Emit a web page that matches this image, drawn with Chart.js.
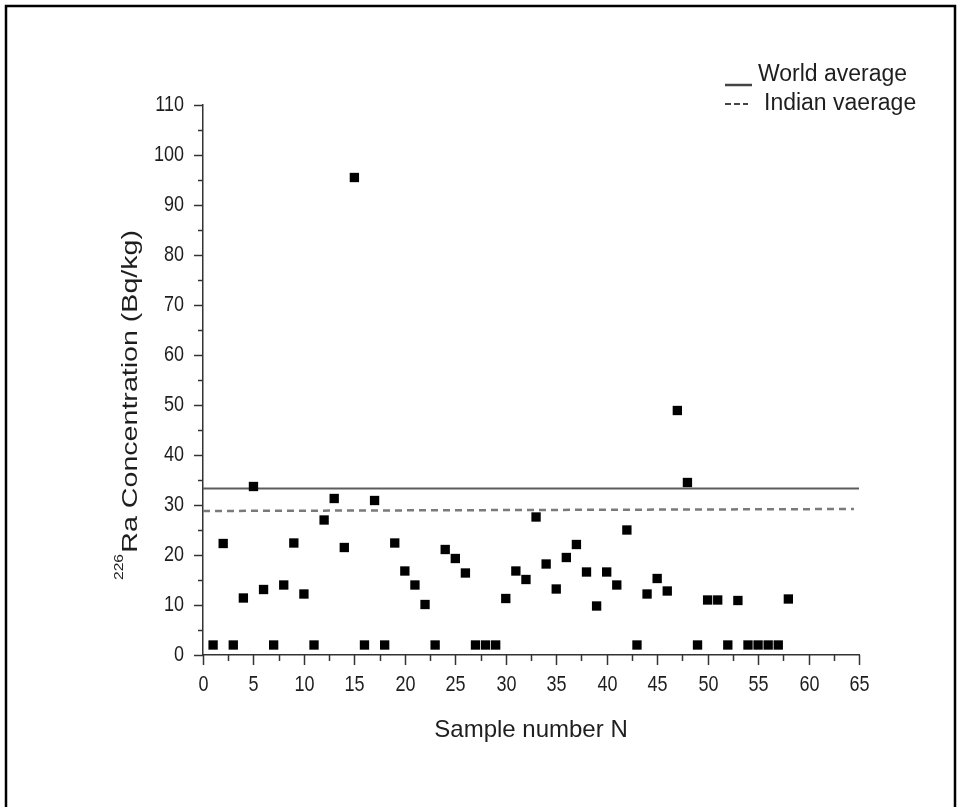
<!DOCTYPE html>
<html lang="en">
<head>
  <meta charset="UTF-8">
  <title>226Ra Concentration</title>
  <style>
    html, body { margin: 0; padding: 0; background: #fff; }
    #wrap { width: 957px; height: 807px; }
  </style>
</head>
<body>
<div id="wrap">
  <canvas id="chart" width="957" height="807"></canvas>
</div>

<script src="https://cdn.jsdelivr.net/npm/chart.js"></script>

<script>
  // sample numbers and measured 226Ra values (Bq/kg)
  const samples = [1, 2, 3, 4, 5, 6, 7, 8, 9, 10, 11, 12, 13, 14, 15, 16, 17, 18, 19, 20,
    21, 22, 23, 24, 25, 26, 27, 28, 29, 30, 31, 32, 33, 34, 35, 36, 37, 38, 39, 40,
    41, 42, 43, 44, 45, 46, 47, 48, 49, 50, 51, 52, 53, 54, 55, 56, 57, 58];
  const raValues = [2, 22.3, 2, 11.4, 33.7, 13.1, 2, 14.0, 22.4, 12.2, 2, 27.0, 31.3, 21.5, 95.5,
    2, 30.9, 2, 22.4, 16.8, 14.0, 10.1, 2, 21.1, 19.3, 16.4, 2, 2, 2, 11.3,
    16.8, 15.1, 27.6, 18.2, 13.2, 19.5, 22.1, 16.6, 9.8, 16.6, 14.0, 25.0, 2, 12.2, 15.3,
    12.8, 48.9, 34.5, 2, 11.0, 11.0, 2, 10.9, 2, 2, 2, 2, 11.2];

  // reference lines: x range and y values at both ends
  const worldX = [0, 65];
  const worldY = [33.3, 33.3];
  const indianX = [0, 64.5];
  const indianY = [28.8, 29.2];

  const legendLabels = ['World average', 'Indian vaerage'];
  const xTitle = 'Sample number N';
  const yTitleSup = '226';
  const yTitle = 'Ra Concentration (Bq/kg)';

  const FONT = '"Liberation Sans", Arial, sans-serif';
  const INK = '#1e1e1e';

  const points = samples.map((n, i) => ({ x: n, y: raValues[i] }));
  const worldLine = worldX.map((x, i) => ({ x, y: worldY[i] }));
  const indianLine = indianX.map((x, i) => ({ x, y: indianY[i] }));

  // the source picture has slightly tall lettering, so labels are drawn here
  function tallText(ctx, text, x, y, sy) {
    ctx.save();
    ctx.translate(x, y);
    ctx.scale(1, sy);
    ctx.fillText(text, 0, 0);
    ctx.restore();
  }

  const decor = {
    id: 'decor',
    afterDraw(chart) {
      const ctx = chart.ctx;
      const { x, y } = chart.scales;
      ctx.save();
      ctx.strokeStyle = '#333';
      ctx.lineWidth = 1.5;
      ctx.fillStyle = INK;
      ctx.font = '18px ' + FONT;
      ctx.textBaseline = 'middle';

      // tick marks and labels (major ticks carry a label)
      ctx.textAlign = 'center';
      x.ticks.forEach((t) => {
        const px = Math.round(x.getPixelForValue(t.value)) + 0.5;
        const len = t.label === '' ? 6 : 10;
        ctx.beginPath();
        ctx.moveTo(px, x.top);
        ctx.lineTo(px, x.top + len);
        ctx.stroke();
        if (t.label !== '') tallText(ctx, t.label, px, x.top + 30, 1.2);
      });
      ctx.textAlign = 'right';
      y.ticks.forEach((t) => {
        const py = Math.round(y.getPixelForValue(t.value)) + 0.5;
        const len = t.label === '' ? 5 : 9;
        ctx.beginPath();
        ctx.moveTo(y.right, py);
        ctx.lineTo(y.right - len, py);
        ctx.stroke();
        if (t.label !== '') tallText(ctx, t.label, y.right - 19, py, 1.2);
      });

      // x title
      ctx.font = '24px ' + FONT;
      ctx.textAlign = 'center';
      ctx.textBaseline = 'alphabetic';
      ctx.fillText(xTitle, (chart.chartArea.left + chart.chartArea.right) / 2, 737);

      // y title with superscript
      ctx.save();
      ctx.translate(137, 580);
      ctx.rotate(-Math.PI / 2);
      ctx.scale(1.3, 1);
      ctx.textAlign = 'left';
      ctx.font = '12px ' + FONT;
      ctx.fillText(yTitleSup, 0, -14);
      const w = ctx.measureText(yTitleSup).width;
      ctx.font = '22px ' + FONT;
      ctx.fillText(yTitle, w + 1, 0);
      ctx.restore();

      // legend
      ctx.font = '23px ' + FONT;
      ctx.textAlign = 'left';
      tallText(ctx, legendLabels[0], 758, 81, 1.08);
      tallText(ctx, legendLabels[1], 764, 110, 1.08);
      ctx.strokeStyle = '#444';
      ctx.lineWidth = 2.5;
      ctx.beginPath();
      ctx.moveTo(725, 85);
      ctx.lineTo(752, 85);
      ctx.stroke();
      ctx.setLineDash([6, 3]);
      ctx.lineWidth = 2;
      ctx.beginPath();
      ctx.moveTo(725, 104);
      ctx.lineTo(748, 104);
      ctx.stroke();
      ctx.setLineDash([]);

      // frame
      ctx.strokeStyle = '#000';
      ctx.lineWidth = 2.5;
      ctx.beginPath();
      ctx.moveTo(6, 807);
      ctx.lineTo(6, 6);
      ctx.lineTo(955, 6);
      ctx.lineTo(955, 807);
      ctx.stroke();
      ctx.restore();
    }
  };

  new Chart(document.getElementById('chart'), {
    type: 'scatter',
    data: {
      datasets: [
        {
          label: 'samples',
          data: points,
          pointStyle: 'rect',
          pointRadius: 6.6,
          pointHoverRadius: 6.6,
          backgroundColor: '#000',
          borderWidth: 0,
          order: 0
        },
        {
          type: 'line',
          label: legendLabels[0],
          data: worldLine,
          borderColor: '#5c5c5c',
          borderWidth: 2,
          pointRadius: 0,
          fill: false,
          order: 2
        },
        {
          type: 'line',
          label: legendLabels[1],
          data: indianLine,
          borderColor: '#7a7a7a',
          borderWidth: 2.5,
          borderDash: [7, 5],
          pointRadius: 0,
          fill: false,
          order: 1
        }
      ]
    },
    options: {
      responsive: false,
      animation: false,
      layout: { padding: { top: 105, right: 98, left: 0, bottom: 0 } },
      plugins: {
        legend: { display: false },
        tooltip: { enabled: false }
      },
      scales: {
        x: {
          type: 'linear',
          min: 0,
          max: 65,
          afterFit: (s) => { s.height = 152; },
          grid: { display: false, drawTicks: false },
          border: { display: true, color: '#333', width: 1.5 },
          ticks: {
            display: false,
            stepSize: 2.5,
            autoSkip: false,
            callback: (v) => (v % 5 === 0 ? String(v) : '')
          }
        },
        y: {
          min: 0,
          max: 110,
          afterFit: (s) => { s.width = 203; },
          grid: { display: false, drawTicks: false },
          border: { display: true, color: '#333', width: 1.5 },
          ticks: {
            display: false,
            stepSize: 5,
            autoSkip: false,
            callback: (v) => (v % 10 === 0 ? String(v) : '')
          }
        }
      }
    },
    plugins: [decor]
  });
</script>
</body>
</html>
